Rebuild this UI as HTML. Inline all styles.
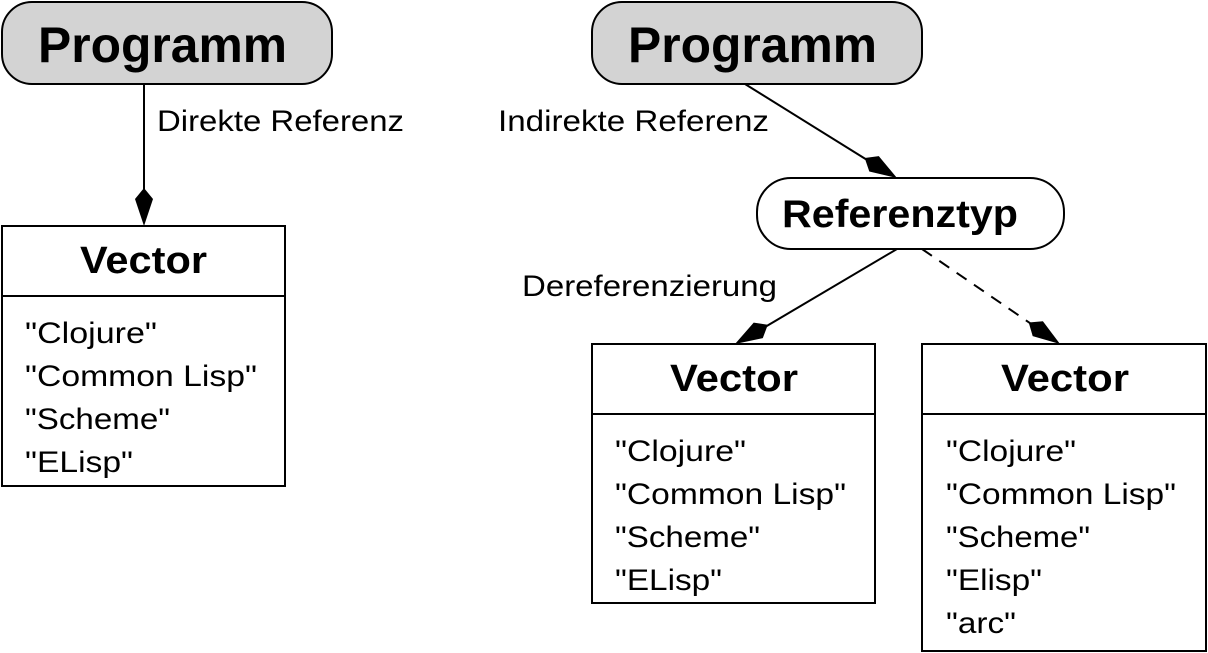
<!DOCTYPE html>
<html><head><meta charset="utf-8"><style>
html,body{margin:0;padding:0;background:#fff;}
svg{display:block;font-family:"Liberation Sans",Arial,sans-serif;}
</style></head><body>
<svg id="s" width="1208" height="653" viewBox="0 0 1208 653" xmlns="http://www.w3.org/2000/svg">
<g stroke="#000" stroke-width="2" fill="none">
<rect x="2" y="2" width="330" height="82" rx="30" fill="#d3d3d3"/>
<rect x="592" y="2" width="330" height="82" rx="30" fill="#d3d3d3"/>
<rect x="757" y="178" width="307" height="71" rx="34" fill="#fff"/>
<rect x="2" y="226" width="283" height="260" fill="#fff"/>
<line x1="2" y1="296" x2="285" y2="296"/>
<rect x="592" y="344" width="283" height="259" fill="#fff"/>
<line x1="592" y1="414" x2="875" y2="414"/>
<rect x="922" y="344" width="284" height="307" fill="#fff"/>
<line x1="922" y1="414" x2="1206" y2="414"/>
<line x1="144" y1="84" x2="144" y2="200"/>
<line x1="745" y1="84" x2="880" y2="168"/>
<line x1="897" y1="249" x2="760" y2="330"/>
<line x1="922" y1="249" x2="1040" y2="330" stroke-dasharray="12,9"/>
</g>
<g id="heads" fill="#000"></g>
<g font-weight="bold" font-size="50">
<text x="38" y="62" textLength="249" lengthAdjust="spacingAndGlyphs">Programm</text>
<text x="628" y="62" textLength="249" lengthAdjust="spacingAndGlyphs">Programm</text>
</g>
<g font-weight="bold">
<text x="782" y="227" font-size="39" textLength="236" lengthAdjust="spacingAndGlyphs">Referenztyp</text>
<text x="80" y="273" font-size="38" textLength="127" lengthAdjust="spacingAndGlyphs">Vector</text>
<text x="670" y="391" font-size="38" textLength="128" lengthAdjust="spacingAndGlyphs">Vector</text>
<text x="1001" y="391" font-size="38" textLength="128" lengthAdjust="spacingAndGlyphs">Vector</text>
</g>
<g font-size="30">
<text x="157" y="131" textLength="247" lengthAdjust="spacingAndGlyphs">Direkte Referenz</text>
<text x="498" y="131" textLength="271" lengthAdjust="spacingAndGlyphs">Indirekte Referenz</text>
<text x="522" y="296" textLength="255" lengthAdjust="spacingAndGlyphs">Dereferenzierung</text>
<text x="25" y="343" textLength="132" lengthAdjust="spacingAndGlyphs">"Clojure"</text>
<text x="25" y="386" textLength="232" lengthAdjust="spacingAndGlyphs">"Common Lisp"</text>
<text x="25" y="429" textLength="145" lengthAdjust="spacingAndGlyphs">"Scheme"</text>
<text x="25" y="472" textLength="108" lengthAdjust="spacingAndGlyphs">"ELisp"</text>
<text x="615" y="461" textLength="131" lengthAdjust="spacingAndGlyphs">"Clojure"</text>
<text x="615" y="504" textLength="231" lengthAdjust="spacingAndGlyphs">"Common Lisp"</text>
<text x="615" y="547" textLength="145" lengthAdjust="spacingAndGlyphs">"Scheme"</text>
<text x="615" y="590" textLength="107" lengthAdjust="spacingAndGlyphs">"ELisp"</text>
<text x="946" y="461" textLength="130" lengthAdjust="spacingAndGlyphs">"Clojure"</text>
<text x="946" y="504" textLength="230" lengthAdjust="spacingAndGlyphs">"Common Lisp"</text>
<text x="946" y="547" textLength="144" lengthAdjust="spacingAndGlyphs">"Scheme"</text>
<text x="946" y="590" textLength="96" lengthAdjust="spacingAndGlyphs">"Elisp"</text>
<text x="946" y="633" textLength="70" lengthAdjust="spacingAndGlyphs">"arc"</text>
</g>
<script>
(function(){
var g=document.getElementById('heads');
function kite(x1,y1,x2,y2){
var dx=x2-x1,dy=y2-y1,l=Math.hypot(dx,dy),ux=dx/l,uy=dy/l,nx=-uy,ny=ux;
var wx=x2-ux*27,wy=y2-uy*27,bx=x2-ux*38,by=y2-uy*38,w=9;
var p=[[x2,y2],[wx+nx*w,wy+ny*w],[bx,by],[wx-nx*w,wy-ny*w]];
var e=document.createElementNS('http://www.w3.org/2000/svg','polygon');
e.setAttribute('points',p.map(function(a){return a[0].toFixed(1)+','+a[1].toFixed(1)}).join(' '));
g.appendChild(e);}
kite(144,84,144,226);
kite(745,84,897,178);
kite(897,249,735,344);
kite(922,249,1060,344);
})();
</script>
</svg>
</body></html>
